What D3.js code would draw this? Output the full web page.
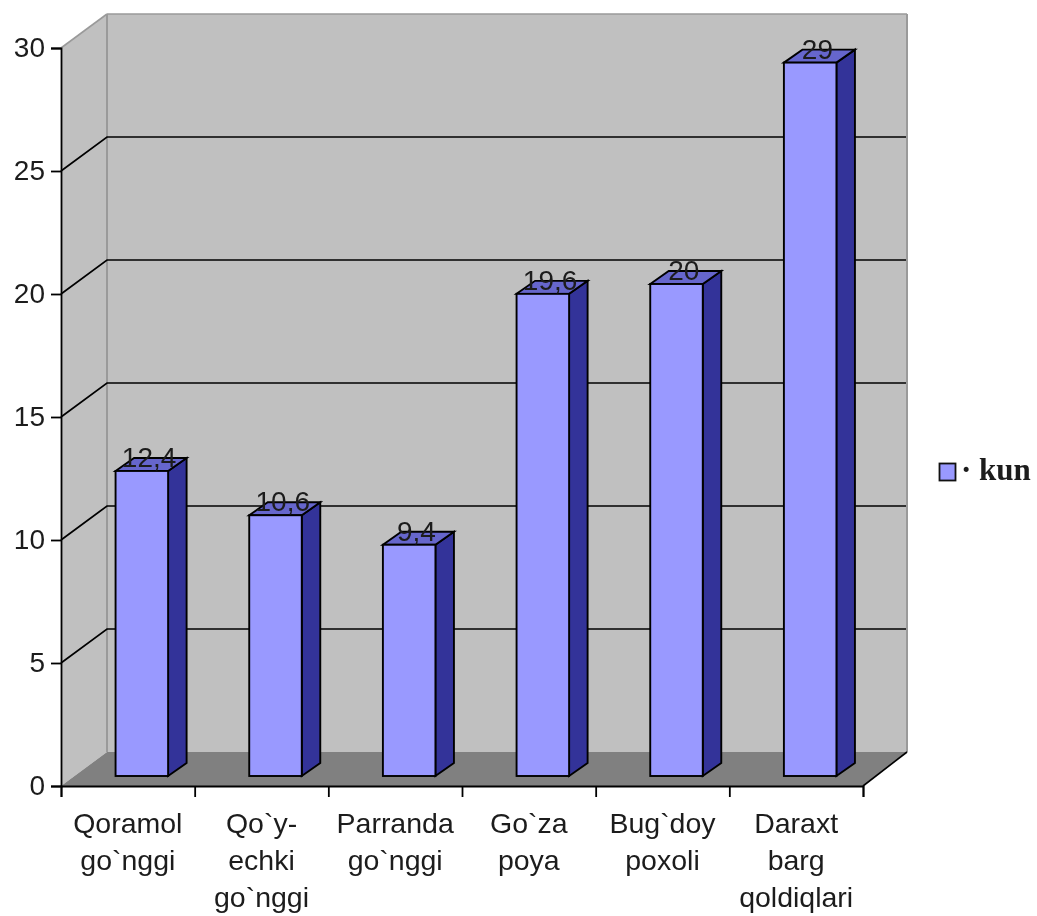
<!DOCTYPE html>
<html>
<head>
<meta charset="utf-8">
<script src="https://cdnjs.cloudflare.com/ajax/libs/d3/7.8.5/d3.min.js"></script>
<style>
html,body{margin:0;padding:0;background:#fff;overflow:hidden}
svg{display:block;filter:blur(0.5px)}
text{font-family:"Liberation Sans",Arial,sans-serif;fill:#1c1c1c}
</style>
</head>
<body>
<svg id="c" width="1037" height="916"></svg>
<script>
const categories = [
  ["Qoramol","go`nggi"],
  ["Qo`y-","echki","go`nggi"],
  ["Parranda","go`nggi"],
  ["Go`za","poya"],
  ["Bug`doy","poxoli"],
  ["Daraxt","barg","qoldiqlari"]
];
const values = [12.4, 10.6, 9.4, 19.6, 20, 29];
const valueLabels = ["12,4","10,6","9,4","19,6","20","29"];
const yTicks = [0,5,10,15,20,25,30];
const seriesName = "· kun";

const W = {x0:61, x1:863, y0:786, y1:48, dxL:46, dxR:44, dy:-34};
const barDepth = {dx:18.5, dy:-13};
const barLift = 10;
const colors = {wall:"#c0c0c0", floor:"#808080", edge:"#9a9a9a", front:"#9999ff", side:"#333399", top:"#6666cc", ink:"#000"};

const svg = d3.select("#c");
const y = d3.scaleLinear().domain([0,30]).range([W.y0,W.y1]);
const ids = categories.map((_,i)=>i);
const x = d3.scaleBand().domain(ids).range([W.x0,W.x1]).paddingInner(0.607).paddingOuter(0.3035);
const edge = d3.scaleLinear().domain([0,6]).range([W.x0,W.x1]);
const poly = pts => pts.map(p=>p.join(",")).join(" ");
const backL = W.x0+W.dxL, backR = W.x1+W.dxR;

// walls
svg.append("polygon").attr("points",poly([[W.x0,y(30)],[backL,y(30)+W.dy],[backL,y(0)+W.dy],[W.x0,y(0)]])).attr("fill",colors.wall);
svg.append("rect").attr("x",backL).attr("y",y(30)+W.dy).attr("width",backR-backL).attr("height",y(0)-y(30)).attr("fill",colors.wall);
svg.append("polygon").attr("points",poly([[W.x0,y(0)],[backL,y(0)+W.dy],[backR,y(0)+W.dy],[W.x1,y(0)]])).attr("fill",colors.floor);

// wall edges
const edgeLine = (a,b,c,w)=>svg.append("line").attr("x1",a[0]).attr("y1",a[1]).attr("x2",b[0]).attr("y2",b[1]).attr("stroke",c).attr("stroke-width",w||1.6);
edgeLine([W.x0,y(30)],[backL,y(30)+W.dy],colors.edge);
edgeLine([backL,y(30)+W.dy],[backR,y(30)+W.dy],colors.edge);
edgeLine([backL,y(30)+W.dy],[backL,y(0)+W.dy],colors.edge,2);
edgeLine([backR,y(30)+W.dy],[backR,y(0)+W.dy],colors.edge,2);
edgeLine([W.x1,y(0)],[backR,y(0)+W.dy],"#000");

// gridlines
svg.append("g").selectAll("path").data(yTicks.filter(t=>t>0&&t<30)).join("path")
  .attr("fill","none").attr("stroke","#000").attr("stroke-width",1.7)
  .attr("d",t=>`M${W.x0},${y(t)}L${backL},${y(t)+W.dy}L${backR-1},${y(t)+W.dy}`);

// axes
const yAxis = d3.axisLeft(y).tickValues(yTicks).tickSize(10).tickPadding(6);
const gy = svg.append("g").attr("transform",`translate(${W.x0},0)`).call(yAxis);
const xAxis = d3.axisBottom(edge).tickValues(d3.range(7)).tickSize(11).tickFormat("");
const gx = svg.append("g").attr("transform",`translate(0,${W.y0})`).call(xAxis);
[gy,gx].forEach(g=>{g.selectAll("path").attr("stroke","#000").attr("stroke-width",1.8);
  g.selectAll("line").attr("stroke","#000").attr("stroke-width",1.8);});
gy.selectAll("text").attr("font-size",28).attr("font-family","Liberation Sans").attr("fill","#1c1c1c").attr("dy","0.3em");

// bars
const bars = svg.append("g").selectAll("g").data(ids).join("g")
  .attr("transform",i=>`translate(${x(i)+14},${-barLift})`);
const bw = x.bandwidth();
const stroke = 1.9;
bars.append("polygon").attr("fill",colors.side).attr("stroke",colors.ink).attr("stroke-width",stroke)
  .attr("points",i=>poly([[bw,y(values[i])],[bw+barDepth.dx,y(values[i])+barDepth.dy],[bw+barDepth.dx,y(0)+barDepth.dy],[bw,y(0)]]));
bars.append("polygon").attr("fill",colors.top).attr("stroke",colors.ink).attr("stroke-width",stroke)
  .attr("points",i=>poly([[0,y(values[i])],[barDepth.dx,y(values[i])+barDepth.dy],[bw+barDepth.dx,y(values[i])+barDepth.dy],[bw,y(values[i])]]));
bars.append("rect").attr("fill",colors.front).attr("stroke",colors.ink).attr("stroke-width",stroke)
  .attr("x",0).attr("width",bw).attr("y",i=>y(values[i])).attr("height",i=>y(0)-y(values[i]));

// value labels
svg.append("g").selectAll("text").data(ids).join("text")
  .attr("text-anchor","middle").attr("font-size",28)
  .attr("x",i=>x(i)+12+(bw+barDepth.dx)/2)
  .attr("y",i=>y(values[i])-barLift-4)
  .text(i=>valueLabels[i]);

// category labels
const cat = svg.append("g").selectAll("text").data(ids).join("text")
  .attr("text-anchor","middle").attr("font-size",28.5);
cat.selectAll("tspan").data(i=>categories[i].map(t=>({t,i}))).join("tspan")
  .attr("x",d=>x(d.i)+bw/2).attr("y",(d,k)=>833+k*37).text(d=>d.t);

// legend
const lg = svg.append("g").attr("transform","translate(939,463)");
lg.append("rect").attr("x",0.5).attr("y",0.5).attr("width",16).attr("height",17)
  .attr("fill",colors.front).attr("stroke","#111").attr("stroke-width",1.8);
lg.append("text").attr("x",22).attr("y",17).attr("font-size",31).attr("font-weight","bold")
  .style("font-family","'Liberation Serif',serif").text(seriesName);
</script>
</body>
</html>
